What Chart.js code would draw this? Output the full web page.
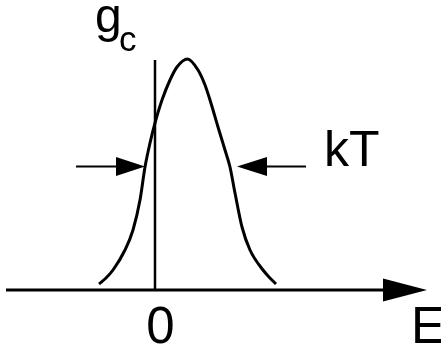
<!DOCTYPE html>
<html>
<head>
<meta charset="utf-8">
<script src="https://cdn.jsdelivr.net/npm/chart.js@4/dist/chart.umd.min.js"></script>
<style>
  html, body { margin: 0; padding: 0; background: #fff; }
  #wrap { width: 441px; height: 345px; position: relative; }
</style>
</head>
<body>
<div id="wrap"><canvas id="gcCanvas"></canvas></div>
<script>
// energy E (arbitrary units, 0 at the vertical axis) and density of states g_c
const energy  = [-5.6, -4.9, -4.2, -3.0, -2.2, -1.5, -1.0, -0.5, 0.0, 0.7, 1.5, 2.2, 3.25,
                 4.3, 5.0, 5.5, 6.3, 7.0, 7.5, 8.0, 8.7, 9.5, 10.8, 11.5, 12.1];
const density = [0.6, 1.2, 2.0, 4.0, 6.0, 9.0, 12.3, 14.7, 16.7, 19.0, 21.0, 22.3, 23.1,
                 22.0, 20.5, 19.0, 16.3, 14.0, 12.3, 9.7, 6.3, 4.0, 2.0, 1.2, 0.6];

const axisE = [-14.9, 27.2];      // extent of the E axis (start, arrow tip)
const gAxis = [0, 23.0];          // extent of the g axis at E = 0
const kTLevel = 12.35;            // height of the kT width arrows
const kTLeft = [-7.9, -1.0];      // tail, tip
const kTRight = [15.1, 8.2];      // tail, tip

const FONT = '"Liberation Sans", Arial, Helvetica, sans-serif';

function arrow(ctx, x0, y0, x1, y1, lw, headLen, headHalf) {
    const ang = Math.atan2(y1 - y0, x1 - x0);
    const bx = x1 - headLen * Math.cos(ang);
    const by = y1 - headLen * Math.sin(ang);
    ctx.lineWidth = lw;
    ctx.beginPath();
    ctx.moveTo(x0, y0);
    ctx.lineTo(bx, by);
    ctx.stroke();
    ctx.beginPath();
    ctx.moveTo(x1, y1);
    ctx.lineTo(bx + headHalf * Math.sin(ang), by - headHalf * Math.cos(ang));
    ctx.lineTo(bx - headHalf * Math.sin(ang), by + headHalf * Math.cos(ang));
    ctx.closePath();
    ctx.fill();
}

const sketchPlugin = {
    id: 'sketch',
    afterDatasetsDraw(chart) {
        const ctx = chart.ctx;
        const xs = chart.scales.x, ys = chart.scales.y;
        ctx.save();
        ctx.strokeStyle = '#000';
        ctx.fillStyle = '#000';
        ctx.lineCap = 'butt';

        // E axis
        const y0 = ys.getPixelForValue(0);
        arrow(ctx, xs.getPixelForValue(axisE[0]), y0, xs.getPixelForValue(axisE[1]), y0, 3, 44, 11.5);

        // kT arrows
        const yk = ys.getPixelForValue(kTLevel);
        arrow(ctx, xs.getPixelForValue(kTLeft[0]), yk, xs.getPixelForValue(kTLeft[1]), yk, 2, 29, 9.5);
        arrow(ctx, xs.getPixelForValue(kTRight[0]), yk, xs.getPixelForValue(kTRight[1]), yk, 2, 30, 9.5);

        // labels
        ctx.textBaseline = 'alphabetic';
        ctx.textAlign = 'left';
        ctx.font = '48px ' + FONT;
        const gx = xs.getPixelForValue(0);
        const gTop = ys.getPixelForValue(gAxis[1]);
        ctx.fillText('g', gx - 60, gTop - 28);
        ctx.font = '35px ' + FONT;
        ctx.fillText('c', gx - 36, gTop - 9);

        ctx.font = '50px ' + FONT;
        ctx.fillText('kT', xs.getPixelForValue(kTRight[0]) + 18, yk - 1);

        ctx.textAlign = 'center';
        ctx.font = '51px ' + FONT;
        ctx.fillText('0', gx + 5.5, y0 + 53);
        ctx.textAlign = 'left';
        ctx.fillText('E', xs.getPixelForValue(axisE[1]) - 16, y0 + 53);
        ctx.restore();
    }
};

new Chart(document.getElementById('gcCanvas'), {
    type: 'scatter',
    data: {
        datasets: [{
            label: 'g_c',
            data: energy.map((e, i) => ({ x: e, y: density[i] })),
            showLine: true,
            borderColor: '#000',
            borderWidth: 3,
            pointRadius: 0,
            cubicInterpolationMode: 'monotone',
            clip: false
        }, {
            label: 'g axis',
            data: gAxis.map(g => ({ x: 0, y: g })),
            showLine: true,
            borderColor: '#000',
            borderWidth: 2.5,
            pointRadius: 0,
            clip: false
        }]
    },
    plugins: [sketchPlugin],
    options: {
        responsive: true,
        maintainAspectRatio: false,
        animation: false,
        layout: { padding: 0 },
        plugins: {
            legend: { display: false },
            tooltip: { enabled: false }
        },
        scales: {
            x: { type: 'linear', display: false, min: -15.5, max: 28.6 },
            y: { type: 'linear', display: false, min: -5.5, max: 29.0 }
        }
    }
});
</script>
</body>
</html>
